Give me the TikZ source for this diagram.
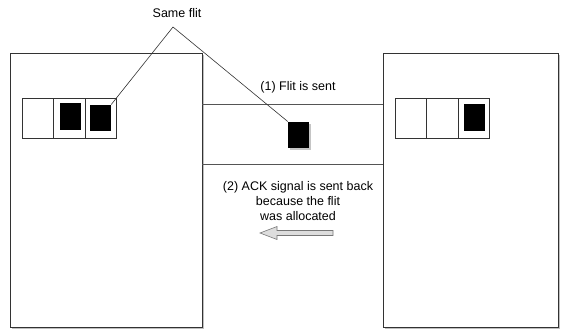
\documentclass[tikz,border=0pt]{standalone}
\usepackage{fontspec}
\setmainfont{Liberation Sans}
\usetikzlibrary{shadows}
\definecolor{edge}{HTML}{333333}
\definecolor{chan}{HTML}{555555}
\definecolor{arrfill}{HTML}{DDDDDD}
\definecolor{arredge}{HTML}{777777}
\tikzset{
  router/.style={draw=edge, line width=0.8pt, fill=white, inner sep=0pt,
    drop shadow={shadow xshift=1.5pt, shadow yshift=-1.5pt, opacity=0.5}},
  cell/.style={draw=edge, line width=0.7pt, fill=white, inner sep=0pt,
    minimum width=31.5pt, minimum height=40pt},
  flitbox/.style={fill=black, inner sep=0pt, minimum width=21pt, minimum height=26.5pt},
  movingflit/.style={flitbox, drop shadow={shadow xshift=1.5pt, shadow yshift=-2pt, opacity=0.45}},
  chanline/.style={draw=chan, line width=0.8pt},
  pointer/.style={draw=edge, line width=0.6pt},
  lbl/.style={font=\fontsize{12.5}{15}\selectfont, align=center, inner sep=0pt}
}
\begin{document}
\begin{tikzpicture}[x=1pt,y=-1pt]
\useasboundingbox[fill=white] (0,0) rectangle (568,333);
% routers
\node[router, minimum width=192pt, minimum height=274pt] (lbox) at (106,190) {};
\node[router, minimum width=175pt, minimum height=274pt] (rbox) at (470.5,190) {};
% left buffer
\node[cell] (l1) at (38,118) {};
\node[cell] (l2) at (69.5,118) {};
\node[cell] (l3) at (101,118) {};
\node[flitbox] (lf2) at (70.5,116.5) {};
\node[flitbox] (lf3) at (100.5,118) {};
% right buffer
\node[cell] (r1) at (411,118) {};
\node[cell] (r2) at (442.5,118) {};
\node[cell] (r3) at (474,118) {};
\node[flitbox] (rf3) at (474,117.5) {};
% channel
\coordinate (ct) at (300,104);
\coordinate (cb) at (300,164.5);
\draw[chanline] (lbox.east |- ct) -- (rbox.west |- ct);
\draw[chanline] (lbox.east |- cb) -- (rbox.west |- cb);
% flit in transit
\node[movingflit] (mf) at (298.5,135) {};
% labels
\node[lbl] (same) at (177,13) {Same flit};
\coordinate (apex) at (173,27);
\draw[pointer] (lf3.north east) -- (apex) -- (mf.north west);
\node[lbl] (sent) at (298,87) {(1) Flit is sent};
\node[lbl] (ack) at (298,201) {(2) ACK signal is sent back\\because the flit\\was allocated};
% ack arrow
\draw[draw=arredge, fill=arrfill, line width=0.6pt]
  (260,233) -- (277,226.5) -- (277,230.5) -- (333,230.5) -- (333,235.5)
  -- (277,235.5) -- (277,239.5) -- cycle;
\end{tikzpicture}
\end{document}
